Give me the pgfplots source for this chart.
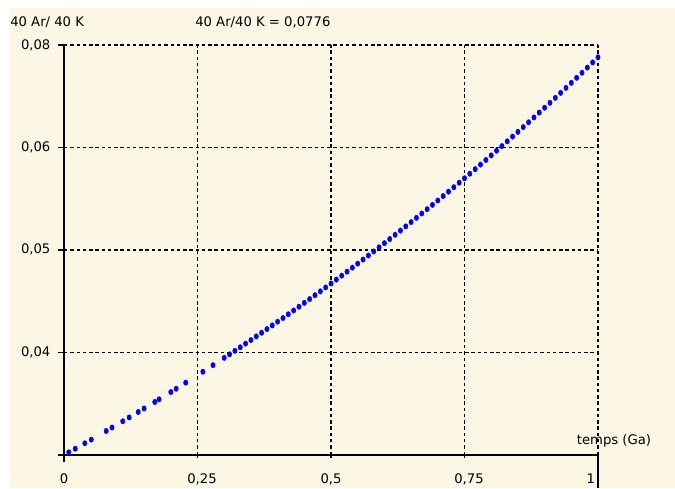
\documentclass[border=0pt]{standalone}
\usepackage{fontspec}
\setmainfont{DejaVu Sans}
\usepackage{pgfplots}
\pgfplotsset{compat=1.18}
\definecolor{cream}{RGB}{251,247,228}
\definecolor{dotblue}{RGB}{0,0,255}
\begin{document}
\begin{tikzpicture}[x=0.75pt,y=0.75pt,font=\fontsize{9.9}{11}\selectfont]
\fill[white] (0,0) rectangle (675,488);
\fill[cream] (10,0) rectangle (675,480);
\begin{axis}[
  at={(48pt,24.75pt)}, anchor=south west,
  scale only axis, width=400.5pt, height=307.5pt,
  xmin=0, xmax=1, ymin=0, ymax=0.08,
  scaled y ticks=false, scaled x ticks=false,
  axis lines=left, separate axis lines,
  axis line style={-, line width=0.8pt, black},
  x axis line style={shorten <=-4.5pt},
  y axis line style={shorten <=-5.25pt},
  grid=major,
  major grid style={black, line width=0.8pt, dash pattern=on 2.6pt off 2.1pt},
  xtick={0,0.25,0.5,0.75,1},
  xticklabels={0,{\makebox[0pt]{\hspace*{6.75pt}0,25}},{0,5},{\makebox[0pt]{\hspace*{6.75pt}0,75}},{\llap{1\hspace{2.25pt}}}},
  ytick={0,0.02,0.04,0.06,0.08},
  yticklabels={{},{0,04},{0,05},{0,06},{0,08}},
  xtick align=center, ytick align=outside,
  major tick length=4.5pt,
  tick style={black, line width=0.8pt},
  xticklabel style={anchor=base, inner sep=0pt, yshift=-19.5pt},
  yticklabel style={anchor=base east, inner sep=0pt, xshift=-5.5pt, yshift=-3pt},
  clip=false,
]
\addplot[only marks, mark=*, color=dotblue, mark size=2pt, mark options={xscale=0.8}] table {
t y
0.009 0.000524
0.021 0.001227
0.039 0.002289
0.051 0.003004
0.079 0.004689
0.090 0.005359
0.110 0.006586
0.122 0.007329
0.139 0.008391
0.150 0.009083
0.170 0.010352
0.178 0.010863
0.200 0.012282
0.210 0.012932
0.228 0.014114
0.260 0.016241
0.279 0.017522
0.30 0.018954
0.31 0.019641
0.32 0.020332
0.33 0.021028
0.34 0.021727
0.35 0.022430
0.36 0.023137
0.37 0.023848
0.38 0.024563
0.39 0.025282
0.40 0.026004
0.41 0.026731
0.42 0.027462
0.43 0.028197
0.44 0.028936
0.45 0.029680
0.46 0.030427
0.47 0.031178
0.48 0.031934
0.49 0.032694
0.50 0.033458
0.51 0.034226
0.52 0.034998
0.53 0.035775
0.54 0.036557
0.55 0.037342
0.56 0.038132
0.57 0.038926
0.58 0.039725
0.59 0.040528
0.60 0.041336
0.61 0.042148
0.62 0.042964
0.63 0.043786
0.64 0.044611
0.65 0.045441
0.66 0.046276
0.67 0.047116
0.68 0.047960
0.69 0.048809
0.70 0.049663
0.71 0.050521
0.72 0.051384
0.73 0.052252
0.74 0.053125
0.75 0.054003
0.76 0.054885
0.77 0.055772
0.78 0.056665
0.79 0.057562
0.80 0.058464
0.81 0.059372
0.82 0.060284
0.83 0.061202
0.84 0.062124
0.85 0.063052
0.86 0.063984
0.87 0.064922
0.88 0.065866
0.89 0.066814
0.90 0.067767
0.91 0.068727
0.92 0.069691
0.93 0.070661
0.94 0.071636
0.95 0.072617
0.96 0.073602
0.97 0.074593
0.98 0.075591
0.99 0.076593
1.00 0.077601
};
\end{axis}
\draw[line width=0.8pt] (598,0) -- (598,33);
\node[anchor=base west, inner sep=0pt] at (10,461.5) {40 Ar/ 40 K};
\node[anchor=base west, inner sep=0pt] at (195,461.5) {40 Ar/40 K = 0,0776};
\node[anchor=base, inner sep=0pt] at (614,43) {temps (Ga)};
\end{tikzpicture}
\end{document}
